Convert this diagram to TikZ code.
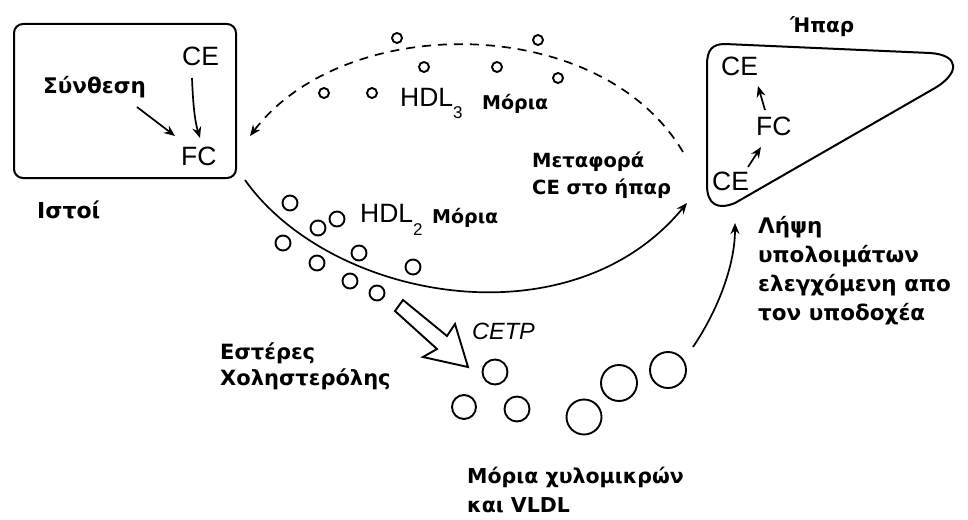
\documentclass[tikz,border=0pt]{standalone}
\usepackage{fontspec}
\setmainfont{Liberation Sans}
\newfontfamily\gr{DejaVu Sans}
\usetikzlibrary{arrows.meta}
\tikzset{
  lab/.style={font=\fontsize{26.5}{30}\selectfont, inner sep=0pt, anchor=base west},
  grk/.style={font=\gr\bfseries\fontsize{#1}{#1}\selectfont, inner sep=0pt, anchor=base west},
  grk/.default=21,
  ln/.style={line width=1.7pt},
  arr/.style={ln, -{Stealth[length=11pt,width=9pt]}},
  dot/.style={line width=1.9pt},
}
\begin{document}
\begin{tikzpicture}[x=1pt,y=-1pt]
\useasboundingbox (0,0) rectangle (968,519);
\fill[white] (0,0) rectangle (968,519);

% ---- tissue box
\node[draw, line width=2pt, rounded corners=9pt, minimum width=222pt, minimum height=154pt, inner sep=0pt] (box) at (125,101) {};
\node[lab] (ce1) at (182,65) {CE};
\node[lab] (fc1) at (181,165) {FC};
\node[grk=21.5] (syn) at (43,93) {Σύνθεση};
\node[grk=22] (istoi) at (37,218) {Ιστοί};
\coordinate (synE) at (137,107);
\coordinate (fcA) at (175,136);
\coordinate (ceS) at (192,78);
\coordinate (fcB) at (200,138);
\draw[arr] (synE) -- (fcA);
\draw[arr] (ceS) .. controls (193,105) and (195,122) .. (fcB);

% ---- liver
\draw[line width=2pt] (707,70) -- (707,185) .. controls (707,205) and (718,210) .. (735,203)
  -- (935,88) .. controls (960,73) and (960,55) .. (930,53) -- (725,44)
  .. controls (712,44) and (707,50) .. (707,65) -- cycle;
\node[grk=20] (hpar) at (790,33) {Ήπαρ};
\node[lab] (ce2) at (721,75) {CE};
\node[lab] (fc2) at (756,135) {FC};
\node[lab] (ce3) at (712,190) {CE};
\coordinate (ce3E) at (748,167);
\coordinate (fc2B) at (761,147);
\coordinate (fc2T) at (765,110);
\coordinate (ce2B) at (758,86);
\draw[arr] (ce3E) -- (fc2B);
\draw[arr] (fc2T) -- (ce2B);

% ---- HDL3 dashed return
\coordinate (dS) at (683,152);
\coordinate (dE) at (250,136);
\draw[arr, dash pattern=on 9pt off 7pt] (dS) .. controls (600,12) and (344,12) .. (dE);
\foreach \p in {(397,38),(538,40),(424,67),(497,67),(558,78),(324,93),(372,93)}
  \draw[dot] \p circle (5);
\node[lab] (hdl3) at (400,106) {HDL\raisebox{-12pt}{\fontsize{17}{17}\selectfont 3}};
\node[grk=19] (mor3) at (482,109) {Μόρια};
\node[grk=19.5] (meta1) at (532,167) {Μεταφορά};
\node[grk=19.5] (meta2) at (532,194) {CE στο ήπαρ};

% ---- HDL2 solid transport
\coordinate (hS) at (245,180);
\coordinate (hE) at (687,203);
\draw[arr] (hS) .. controls (330,300) and (570,345) .. (hE);
\foreach \p in {(290,203),(318,228),(337,219),(283,243),(359,253),(317,263),(350,281),(413,267),(377,293)}
  \draw[dot] \p circle (7.5);
\node[lab] (hdl2) at (360,222) {HDL\raisebox{-13pt}{\fontsize{17}{17}\selectfont 2}};
\node[grk=19] (mor2) at (432,223) {Μόρια};

% ---- CETP hollow arrow
\draw[line width=1.9pt, line join=miter] (395,311) -- (403,300) -- (447,336) -- (455,324)
  -- (468,367) -- (423,357) -- (437,349) -- cycle;
\node[lab, font=\itshape\fontsize{23.5}{28}\selectfont] (cetp) at (472,339) {CETP};
\node[grk=21] (est1) at (220,359) {Εστέρες};
\node[grk=21] (est2) at (220,385) {Χοληστερόλης};

% ---- chylomicrons / VLDL
\foreach \p/\r in {(495,372)/12.5,(464,407)/12,(517,409)/12.5,(584,417)/17.5,(619,383)/18,(668,370)/18}
  \draw[dot] \p circle (\r);
\node[grk=20.5] (chy1) at (467,483) {Μόρια χυλομικρών};
\node[grk=20.5] (chy2) at (467,512) {και VLDL};

% ---- remnant uptake
\coordinate (rS) at (693,347);
\coordinate (rE) at (735,223);
\draw[arr] (rS) .. controls (718,310) and (735,265) .. (rE);
\node[grk=21.5] (l1) at (758,233) {Λήψη};
\node[grk=21.5] (l2) at (758,262) {υπολοιμάτων};
\node[grk=21.5] (l3) at (758,291) {ελεγχόμενη απο};
\node[grk=21.5] (l4) at (758,320) {τον υποδοχέα};
\end{tikzpicture}
\end{document}
